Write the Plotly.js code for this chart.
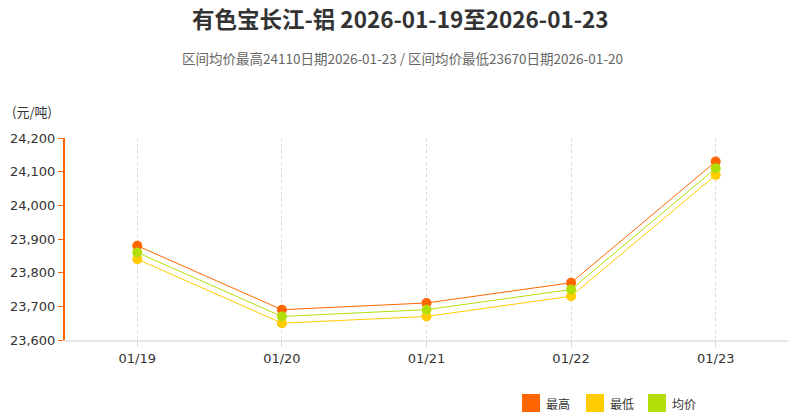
<!DOCTYPE html>
<html>
<head>
<meta charset="utf-8">
<script src="https://cdn.plot.ly/plotly-3.0.1.min.js"></script>
<style>
html, body { margin: 0; padding: 0; background: #fff; }
#chart { width: 791px; height: 413px; }
</style>
</head>
<body>
<div id="chart"></div>
<script>
// values (元/吨)
var dates = ['01/19', '01/20', '01/21', '01/22', '01/23'];
var highs = [23880, 23690, 23710, 23770, 24130];
var lows = [23840, 23650, 23670, 23730, 24090];
var avgs = [23860, 23670, 23690, 23750, 24110];
var yTicks = [23600, 23700, 23800, 23900, 24000, 24100, 24200];
var seriesNames = ['最高', '最低', '均价'];
var seriesColors = ['#ff6600', '#ffcc00', '#b3de09'];

var FONT = 'Verdana, "DejaVu Sans", "Noto Sans CJK SC", sans-serif';
var CJK = '"Noto Sans CJK SC", "Noto Sans", sans-serif';

function makeTrace(i, ys) {
    return {
        name: seriesNames[i],
        x: dates,
        y: ys,
        type: 'scatter',
        mode: 'lines+markers',
        line: { color: seriesColors[i], width: 1 },
        marker: { color: seriesColors[i], size: 10 }
    };
}

var traces = [makeTrace(0, highs), makeTrace(1, lows), makeTrace(2, avgs)];

// legend drawn by hand: square swatch + label, below the plot
var shapes = [];
var annotations = [];
var legendX = [522, 586, 648]; // pixel left of each swatch
var W = 791, L = 65, R = 3, T = 138, B = 73;
var pw = W - L - R, ph = 413 - T - B;
function px(x) { return (x - L) / pw; }
function py(y) { return (413 - B - y) / ph; }
for (var i = 0; i < 3; i++) {
    shapes.push({
        type: 'rect', xref: 'paper', yref: 'paper',
        x0: px(legendX[i]), x1: px(legendX[i] + 18),
        y0: py(412), y1: py(394),
        fillcolor: seriesColors[i], line: { width: 0 }
    });
    annotations.push({
        text: seriesNames[i], xref: 'paper', yref: 'paper',
        x: px(legendX[i] + 22), xanchor: 'left',
        y: py(403), yanchor: 'middle',
        showarrow: false,
        font: { family: CJK, size: 12, color: '#333' }
    });
}
annotations.push({
    text: '区间均价最高24110日期2026-01-23 / 区间均价最低23670日期2026-01-20',
    xref: 'paper', yref: 'paper',
    x: px(402), xanchor: 'center',
    y: py(58), yanchor: 'middle',
    showarrow: false,
    font: { family: CJK, size: 13.5, color: '#666' }
});
annotations.push({
    text: '(元/吨)',
    xref: 'paper', yref: 'paper',
    x: px(10), xanchor: 'left',
    y: py(111), yanchor: 'middle',
    showarrow: false,
    font: { family: CJK, size: 13, color: '#333' }
});

var layout = {
    width: W,
    height: 413,
    plot_bgcolor: '#fff',
    paper_bgcolor: '#fff',
    margin: { l: L, r: R, t: T, b: B, autoexpand: false },
    font: { family: FONT, size: 13, color: '#333' },
    title: {
        text: '<b>有色宝长江-铝 2026-01-19至2026-01-23</b>',
        x: 0.506,
        xanchor: 'center',
        y: 0.952,
        yanchor: 'middle',
        font: { family: CJK, size: 22.5, color: '#333' }
    },
    showlegend: false,
    shapes: shapes,
    annotations: annotations,
    xaxis: {
        type: 'category',
        range: [-0.5, 4.5],
        showgrid: true,
        gridcolor: '#d8d8d8',
        griddash: 'dot',
        gridwidth: 1,
        showline: true,
        linecolor: '#e6e6e6',
        linewidth: 2,
        ticks: 'outside',
        ticklen: 5,
        tickcolor: '#d8d8d8',
        tickfont: { family: FONT, size: 13, color: '#333' },
        zeroline: false,
        fixedrange: true
    },
    yaxis: {
        range: [23600, 24200],
        tickvals: yTicks,
        tickformat: ',d',
        showgrid: false,
        showline: true,
        linecolor: '#ff6600',
        linewidth: 2,
        ticks: 'outside',
        ticklen: 5,
        tickcolor: '#ff6600',
        tickfont: { family: FONT, size: 13, color: '#333' },
        zeroline: false,
        fixedrange: true
    }
};

Plotly.newPlot('chart', traces, layout, { staticPlot: true });
</script>
</body>
</html>
